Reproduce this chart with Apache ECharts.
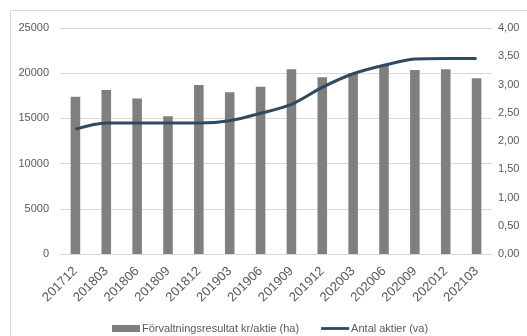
<!DOCTYPE html>
<html>
<head>
<meta charset="utf-8">
<script src="https://cdn.jsdelivr.net/npm/echarts@6/dist/echarts.min.js"></script>
<style>
  html, body { margin: 0; padding: 0; background: #ffffff; }
  #chart { width: 527px; height: 336px; }
</style>
</head>
<body>
<div id="chart"></div>
<script>
// Quarterly periods
const periods = ['201712', '201803', '201806', '201809', '201812', '201903', '201906',
                 '201909', '201912', '202003', '202006', '202009', '202012', '202103'];

// Förvaltningsresultat kr/aktie (left axis)
const resultat = [17400, 18150, 17200, 15250, 18700, 17900, 18500,
                  20430, 19550, 20000, 20900, 20350, 20430, 19430];

// Antal aktier (right axis)
const aktier = [2.21, 2.32, 2.32, 2.32, 2.32, 2.36, 2.49,
                2.65, 2.95, 3.19, 3.34, 3.45, 3.46, 3.46];

const leftTicks = { min: 0, max: 25000, interval: 5000 };
const rightTicks = { min: 0, max: 4, interval: 0.5 };

const barName = 'Förvaltningsresultat kr/aktie (ha)';
const lineName = 'Antal aktier (va)';

const textColor = '#595959';
const font = '"Liberation Sans", Arial, sans-serif';

const chart = echarts.init(document.getElementById('chart'), null, { renderer: 'canvas' });

chart.setOption({
  backgroundColor: '#ffffff',
  animation: false,
  textStyle: { fontFamily: font },
  graphic: [{
    type: 'rect',
    shape: { x: 10.5, y: 10.5, width: 600, height: 400 },
    style: { fill: 'none', stroke: '#d9d9d9', lineWidth: 1 },
    silent: true,
    z: -10
  }],
  grid: { left: 60, right: 35, top: 28, bottom: 82, containLabel: false },
  legend: {
    top: 318,
    left: 107,
    itemGap: 22,
    itemWidth: 28,
    itemHeight: 7,
    textStyle: { color: textColor, fontSize: 11, fontFamily: font, padding: [0, 0, 0, -3] },
    data: [
      { name: barName, icon: 'rect' },
      { name: lineName, icon: 'path://M0,0 L30,0 L30,3 L0,3 Z' }
    ]
  },
  xAxis: {
    type: 'category',
    data: periods,
    axisLine: { show: true, lineStyle: { color: '#d9d9d9' } },
    axisTick: { show: false },
    axisLabel: { color: textColor, fontSize: 13, rotate: 45, margin: 15, interval: 0 }
  },
  yAxis: [{
    type: 'value',
    min: leftTicks.min, max: leftTicks.max, interval: leftTicks.interval,
    axisLine: { show: false },
    axisTick: { show: false },
    splitLine: { lineStyle: { color: '#d9d9d9' } },
    axisLabel: { color: textColor, fontSize: 11, margin: 11, formatter: v => String(v) }
  }, {
    type: 'value',
    min: rightTicks.min, max: rightTicks.max, interval: rightTicks.interval,
    axisLine: { show: false },
    axisTick: { show: false },
    splitLine: { show: false },
    axisLabel: {
      color: textColor, fontSize: 11, margin: 6,
      formatter: v => v.toFixed(2).replace('.', ',')
    }
  }],
  series: [{
    name: barName,
    type: 'bar',
    yAxisIndex: 0,
    data: resultat,
    barWidth: '31%',
    itemStyle: { color: '#7f7f7f' }
  }, {
    name: lineName,
    type: 'line',
    yAxisIndex: 1,
    data: aktier,
    smooth: 0.3,
    symbol: 'none',
    lineStyle: { color: '#2e4a62', width: 3 },
    itemStyle: { color: '#2e4a62' },
    z: 3
  }]
});
</script>
</body>
</html>
